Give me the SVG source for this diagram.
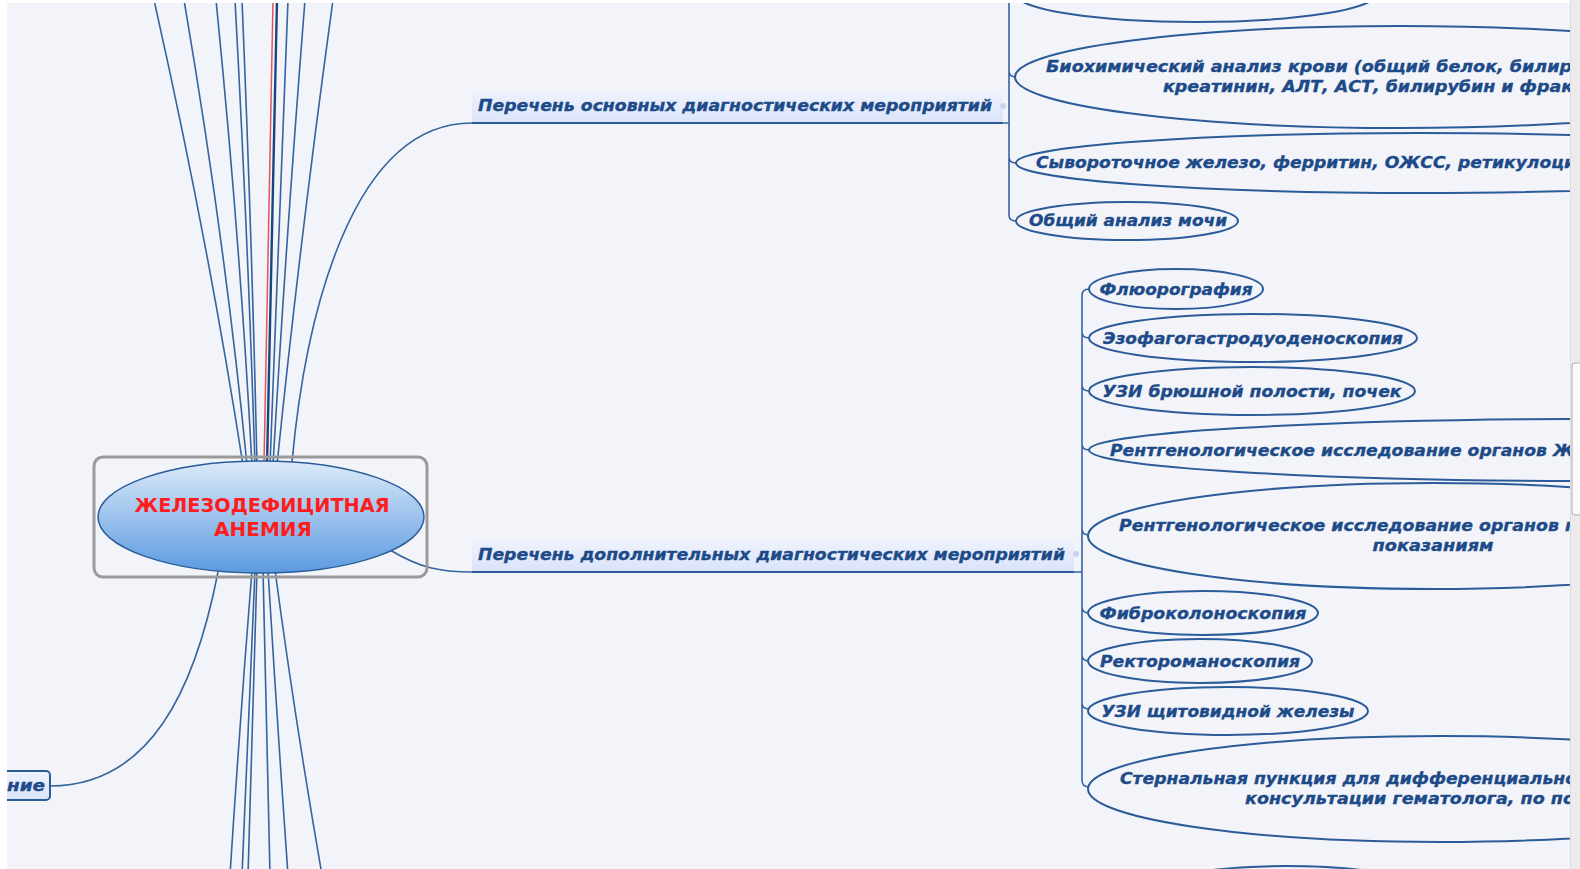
<svg xmlns="http://www.w3.org/2000/svg" width="1580" height="869" viewBox="0 0 1580 869">
<defs>
<linearGradient id="gc" x1="0" y1="0" x2="0" y2="1">
<stop offset="0" stop-color="#dceaf9"/>
<stop offset="1" stop-color="#5b9ae0"/>
</linearGradient>
<linearGradient id="gl" x1="0" y1="0" x2="0" y2="1">
<stop offset="0" stop-color="#eef2fd"/>
<stop offset="1" stop-color="#dbe4fa"/>
</linearGradient>
<clipPath id="clip"><rect x="7" y="3" width="1563" height="866"/></clipPath>
<style>
.c{fill:none;stroke:#36649e;stroke-width:1.6}
.n ellipse{fill:none;stroke:#2b5c99;stroke-width:2}
.t{font-family:"DejaVu Sans",Verdana,sans-serif;font-weight:bold;font-style:italic;font-size:16px;fill:#1d4a88;stroke:#1d4a88;stroke-width:0.35}
.ul{fill:none;stroke:#2b5c99;stroke-width:2}
.dot{fill:#c9d5ef}
</style>
</defs>
<rect width="1580" height="869" fill="#f2f4f9"/>
<g clip-path="url(#clip)">
<g id="connectors">
<path class="c" d="M154 0 Q208 240 243 465"/>
<path class="c" d="M184 0 Q225 240 247 465"/>
<path class="c" d="M216 0 Q240 240 252 465"/>
<path class="c" d="M235 0 Q248 240 255 465"/>
<path class="c" d="M242 0 Q252 240 257 465"/>
<path class="c" d="M273 0 Q268 240 264 465" style="stroke:#e25555;stroke-width:1.5"/>
<path class="c" d="M277 0 Q271 240 267 465" style="stroke:#1a4585;stroke-width:2.4"/>
<path class="c" d="M288 0 Q278 240 270 465"/>
<path class="c" d="M305 0 Q286 240 273 465"/>
<path class="c" d="M333 0 Q300 240 277 465"/>
<path class="c" d="M252 570 Q240 720 230 875"/>
<path class="c" d="M255 570 Q248 720 242 875"/>
<path class="c" d="M257 570 Q252 720 248 875"/>
<path class="c" d="M263 570 Q266 720 270 875"/>
<path class="c" d="M268 570 Q277 720 288 875"/>
<path class="c" d="M275 570 Q295 720 322 875"/>
<path class="c" d="M292 462 C305 320 350 123 472 123"/>
<path class="c" d="M390 550 C420 568 440 572 472 572"/>
<path class="c" d="M218 572 C195 690 150 786 50 786"/>
<path class="c" d="M1003 123 H1009 M1009 0 V215 Q1009 221 1016 221 M1009 71 Q1009 77 1016 77 M1009 157 Q1009 163 1016 163"/>
<path class="c" d="M1074 572 H1082 M1089 289 Q1082 289 1082 296 V780 Q1082 787 1089 787 M1082 332 Q1082 338 1089 338 M1082 385 Q1082 391 1089 391 M1082 444 Q1082 450 1089 450 M1082 529 Q1082 535 1089 535 M1082 607 Q1082 613 1089 613 M1082 655 Q1082 661 1089 661 M1082 703 Q1082 709 1089 709"/>
</g>
<g id="center">
<rect x="94" y="457" width="333" height="120" rx="9" fill="none" stroke="#9a9a9a" stroke-width="3"/>
<ellipse cx="261" cy="517" rx="163" ry="56" fill="url(#gc)" stroke="#2a5d9a" stroke-width="1.5"/>
<text x="262" y="512" text-anchor="middle" font-family="DejaVu Sans,Verdana,sans-serif" font-weight="bold" font-size="20" fill="#ff1c1c" textLength="255" lengthAdjust="spacingAndGlyphs">ЖЕЛЕЗОДЕФИЦИТНАЯ</text>
<text x="263" y="536" text-anchor="middle" font-family="DejaVu Sans,Verdana,sans-serif" font-weight="bold" font-size="20" fill="#ff1c1c">АНЕМИЯ</text>
</g>
<g id="label-main">
<rect x="472" y="92" width="531" height="30" fill="url(#gl)"/>
<path class="ul" d="M472 123 H1003"/>
<text class="t" x="478" y="111" textLength="514" lengthAdjust="spacingAndGlyphs">Перечень основных диагностических мероприятий</text>
<circle class="dot" cx="1003" cy="106" r="3"/>
</g>
<g id="label-extra">
<rect x="472" y="540" width="602" height="31" fill="url(#gl)"/>
<path class="ul" d="M472 572 H1074"/>
<text class="t" x="478" y="560" textLength="587" lengthAdjust="spacingAndGlyphs">Перечень дополнительных диагностических мероприятий</text>
<circle class="dot" cx="1076" cy="554" r="3"/>
</g>
<g id="node-left">
<rect x="-10" y="771" width="60" height="29" rx="4" fill="url(#gl)" stroke="#2b5c99" stroke-width="2"/>
<text class="t" x="45" y="791" text-anchor="end" textLength="38" lengthAdjust="spacingAndGlyphs">ние</text>
</g>
<g id="n-top" class="n"><ellipse cx="1196" cy="-6" rx="180" ry="28"/></g>
<g id="n-bio" class="n"><ellipse cx="1400" cy="77" rx="385" ry="51"/>
<text class="t" x="1046" y="72" textLength="526" lengthAdjust="spacingAndGlyphs">Биохимический анализ крови (общий белок, билир</text>
<text class="t" x="1163" y="92" textLength="410" lengthAdjust="spacingAndGlyphs">креатинин, АЛТ, АСТ, билирубин и фрак</text></g>
<g id="n-iron" class="n"><ellipse cx="1420" cy="163" rx="404" ry="30"/>
<text class="t" x="1036" y="168" textLength="540" lengthAdjust="spacingAndGlyphs">Сывороточное железо, ферритин, ОЖСС, ретикулоци</text></g>
<g id="n-urine" class="n"><ellipse cx="1127" cy="221" rx="111" ry="19"/>
<text class="t" x="1128" y="226" text-anchor="middle" textLength="198" lengthAdjust="spacingAndGlyphs">Общий анализ мочи</text></g>
<g id="n-fluoro" class="n"><ellipse cx="1176" cy="289" rx="87" ry="20"/>
<text class="t" x="1176" y="295" text-anchor="middle" textLength="153" lengthAdjust="spacingAndGlyphs">Флюорография</text></g>
<g id="n-egds" class="n"><ellipse cx="1253" cy="338" rx="164" ry="24"/>
<text class="t" x="1253" y="344" text-anchor="middle" textLength="300" lengthAdjust="spacingAndGlyphs">Эзофагогастродуоденоскопия</text></g>
<g id="n-uzi" class="n"><ellipse cx="1252" cy="391" rx="163" ry="24"/>
<text class="t" x="1252" y="397" text-anchor="middle" textLength="299" lengthAdjust="spacingAndGlyphs">УЗИ брюшной полости, почек</text></g>
<g id="n-xray1" class="n"><ellipse cx="1600" cy="450" rx="511" ry="31"/>
<text class="t" x="1110" y="456" textLength="464" lengthAdjust="spacingAndGlyphs">Рентгенологическое исследование органов Ж</text></g>
<g id="n-xray2" class="n"><ellipse cx="1433" cy="536" rx="345" ry="53"/>
<text class="t" x="1119" y="531" textLength="455" lengthAdjust="spacingAndGlyphs">Рентгенологическое исследование органов г</text>
<text class="t" x="1433" y="551" text-anchor="middle" textLength="121" lengthAdjust="spacingAndGlyphs">показаниям</text></g>
<g id="n-fcs" class="n"><ellipse cx="1203" cy="613" rx="115" ry="22"/>
<text class="t" x="1203" y="619" text-anchor="middle" textLength="207" lengthAdjust="spacingAndGlyphs">Фиброколоноскопия</text></g>
<g id="n-rrs" class="n"><ellipse cx="1200" cy="661" rx="112" ry="22"/>
<text class="t" x="1200" y="667" text-anchor="middle" textLength="200" lengthAdjust="spacingAndGlyphs">Ректороманоскопия</text></g>
<g id="n-thyr" class="n"><ellipse cx="1228" cy="711" rx="140" ry="24"/>
<text class="t" x="1228" y="717" text-anchor="middle" textLength="253" lengthAdjust="spacingAndGlyphs">УЗИ щитовидной железы</text></g>
<g id="n-sternal" class="n"><ellipse cx="1440" cy="789" rx="352" ry="53"/>
<text class="t" x="1120" y="784" textLength="457" lengthAdjust="spacingAndGlyphs">Стернальная пункция для дифференциально</text>
<text class="t" x="1245" y="804" textLength="330" lengthAdjust="spacingAndGlyphs">консультации гематолога, по по</text></g>
<g id="n-bottom" class="n"><ellipse cx="1287" cy="891" rx="137" ry="25"/></g>
</g>
<rect x="0" y="0" width="7" height="869" fill="#ffffff"/>
<rect x="0" y="0" width="1580" height="3" fill="#ffffff"/>
<rect x="1570" y="0" width="10" height="869" fill="#ebebeb"/>
<line x1="1570.5" y1="0" x2="1570.5" y2="869" stroke="#dddddd"/>
<rect x="1572" y="363" width="10" height="152" rx="3" fill="#fafafa" stroke="#b0b0b0"/>
</svg>
